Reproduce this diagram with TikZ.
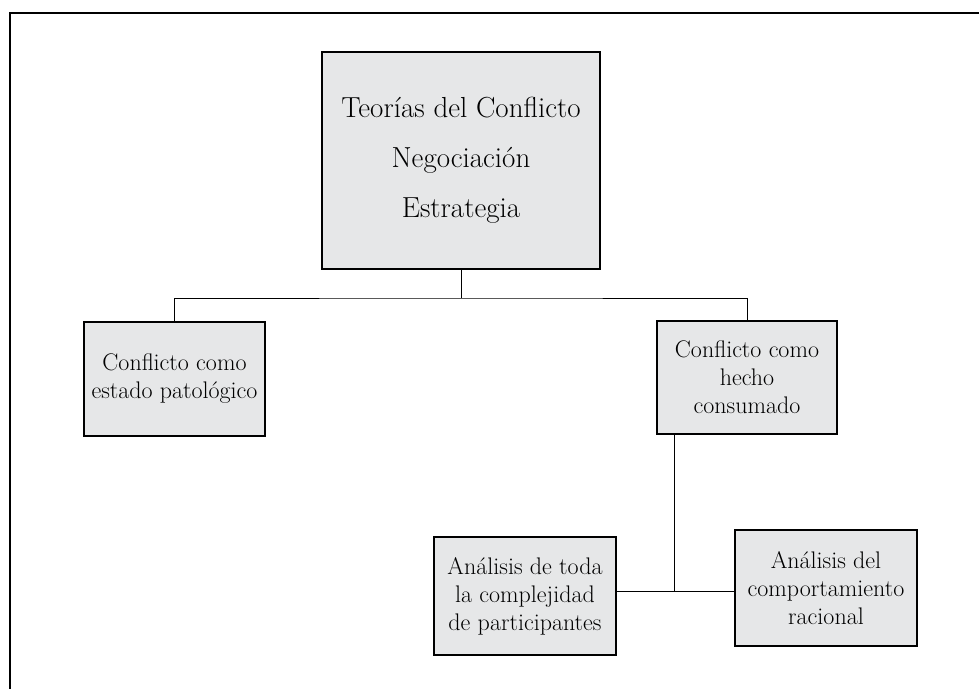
\documentclass[tikz,border=0pt]{standalone}
\usepackage{tikz}
\definecolor{grisCaja}{RGB}{230,231,232}

\begin{document}
\begin{tikzpicture}[x=1pt,y=1pt,
    caja/.style={draw=black,fill=grisCaja,line width=1.1pt,align=center,inner sep=0pt},
    textoCaja/.style={font=\fontsize{24}{28}\selectfont},
    linea/.style={line width=1pt}]
            \clip (0,0) rectangle (979,-688);
            \draw[line width=2pt] (9.5,-720) -- (9.5,-12.5) -- (1000,-12.5);
            \node[caja,minimum width=278,minimum height=217,font=\fontsize{29}{50}\selectfont] (teorias) at (461,-160.5) {Teorías del Conflicto\\Negociación\\Estrategia};
            \node[caja,textoCaja,minimum width=181,minimum height=114] (patologico) at (174.5,-379) {Conflicto como\\estado patológico};
            \node[caja,textoCaja,minimum width=180,minimum height=113] (consumado) at (747,-377.5) {Conflicto como\\hecho\\consumado};
            \node[caja,textoCaja,minimum width=182,minimum height=118] (complejidad) at (525,-596) {Análisis de toda\\la complejidad\\de participantes};
            \node[caja,textoCaja,minimum width=182,minimum height=116] (racional) at (826,-588) {Análisis del\\comportamiento\\racional};
            \coordinate (reparto) at (461,-298);
            \coordinate (bajada) at (674,-434);
            \coordinate (cruce) at (674,-591);
            \draw[linea](teorias.south)--(reparto);
            \draw[linea](patologico.north)|-(reparto)-|(consumado.north);
            \draw[linea](bajada)--(cruce);
            \draw[linea](complejidad.east|-cruce)--(racional.west|-cruce);
\end{tikzpicture}
\end{document}
